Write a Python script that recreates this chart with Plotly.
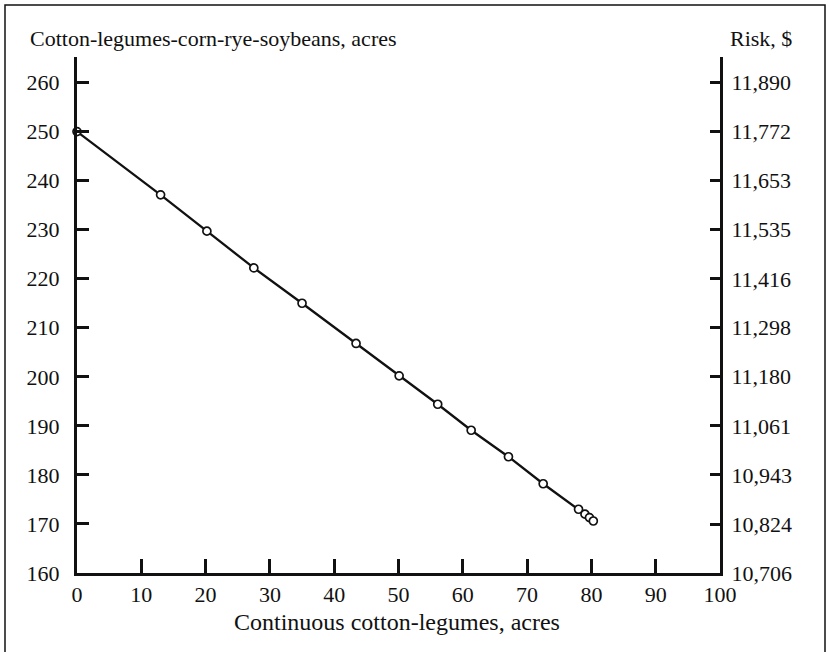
import plotly.graph_objects as go

# Data
cont_cotton_legumes = [0, 13.0, 20.2, 27.5, 35.0, 43.4, 50.1, 56.1, 61.3, 67.1, 72.5, 78.0, 79.0, 79.7, 80.3]
rotation_acres = [250, 237.1, 229.7, 222.2, 215.0, 206.8, 200.2, 194.4, 189.1, 183.7, 178.2, 173.0, 172.0, 171.3, 170.6]

left_ticks = [160, 170, 180, 190, 200, 210, 220, 230, 240, 250, 260]
risk_ticks = [10706, 10824, 10943, 11061, 11180, 11298, 11416, 11535, 11653, 11772, 11890]
x_ticks = [0, 10, 20, 30, 40, 50, 60, 70, 80, 90, 100]

y_range = [160, 265.2]
# linear map acres -> risk
slope = (risk_ticks[-1] - risk_ticks[0]) / (left_ticks[-1] - left_ticks[0])
def to_risk(v):
    return risk_ticks[0] + slope * (v - left_ticks[0])

FONT = "Liberation Serif"
INK = "#111111"
FS = 22

fig = go.Figure()
fig.add_trace(go.Scatter(
    x=cont_cotton_legumes, y=rotation_acres, mode="lines+markers",
    line=dict(color=INK, width=2.3),
    marker=dict(symbol="circle", size=8, color="white", line=dict(color=INK, width=1.7)),
    cliponaxis=False, showlegend=False, hoverinfo="x+y"))
fig.add_trace(go.Scatter(
    x=cont_cotton_legumes, y=[to_risk(v) for v in rotation_acres], yaxis="y2",
    mode="lines", line=dict(color="rgba(0,0,0,0)"), showlegend=False, hoverinfo="skip"))

W, H = 829, 652
L, R, T, B = 77, 109, 57, 79
pw, ph = W - L - R, H - T - B

def px2paper_x(px):
    return (px - L) / pw
def px2paper_y(py):
    return (H - B - py) / ph

fig.update_layout(
    width=W, height=H,
    margin=dict(l=L, r=R, t=T, b=B, autoexpand=False),
    paper_bgcolor="white", plot_bgcolor="white",
    font=dict(family=FONT, size=FS, color=INK),
    xaxis=dict(range=[0, 100], tickvals=x_ticks, ticks="inside", ticklen=14, tickwidth=3,
               tickcolor=INK, showline=True, linecolor=INK, linewidth=3, showgrid=False,
               zeroline=False, ticklabelstandoff=0, automargin=False, tickfont=dict(size=FS)),
    yaxis=dict(range=y_range, tickvals=left_ticks, ticks="inside", ticklen=12, tickwidth=3,
               tickcolor=INK, showline=True, linecolor=INK, linewidth=3, showgrid=False,
               zeroline=False, ticklabelstandoff=10, automargin=False, tickfont=dict(size=FS)),
    yaxis2=dict(range=[to_risk(y_range[0]), to_risk(y_range[1])], tickvals=risk_ticks,
                tickformat=",d", overlaying="y", side="right", ticks="inside", ticklen=10,
                tickwidth=3, tickcolor=INK, showline=True, linecolor=INK, linewidth=3,
                showgrid=False, zeroline=False, ticklabelstandoff=4, automargin=False,
                tickfont=dict(size=FS)),
    shapes=[dict(type="rect", xref="paper", yref="paper",
                 x0=px2paper_x(5), x1=px2paper_x(825), y0=px2paper_y(655), y1=px2paper_y(5),
                 line=dict(color=INK, width=1.5), fillcolor="rgba(0,0,0,0)", layer="below")],
    annotations=[
        dict(text="Cotton-legumes-corn-rye-soybeans, acres", xref="paper", yref="paper",
             x=px2paper_x(28), y=px2paper_y(39), xanchor="left", yanchor="middle",
             showarrow=False, font=dict(size=FS)),
        dict(text="Risk, $", xref="paper", yref="paper",
             x=px2paper_x(794), y=px2paper_y(39), xanchor="right", yanchor="middle",
             showarrow=False, font=dict(size=FS)),
        dict(text="Continuous cotton-legumes, acres", xref="paper", yref="paper",
             x=px2paper_x(397), y=px2paper_y(622), xanchor="center", yanchor="middle",
             showarrow=False, font=dict(size=24)),
    ],
)

fig.write_html("out.html", config={"displayModeBar": False},
               post_script="document.body.style.margin='0';")
